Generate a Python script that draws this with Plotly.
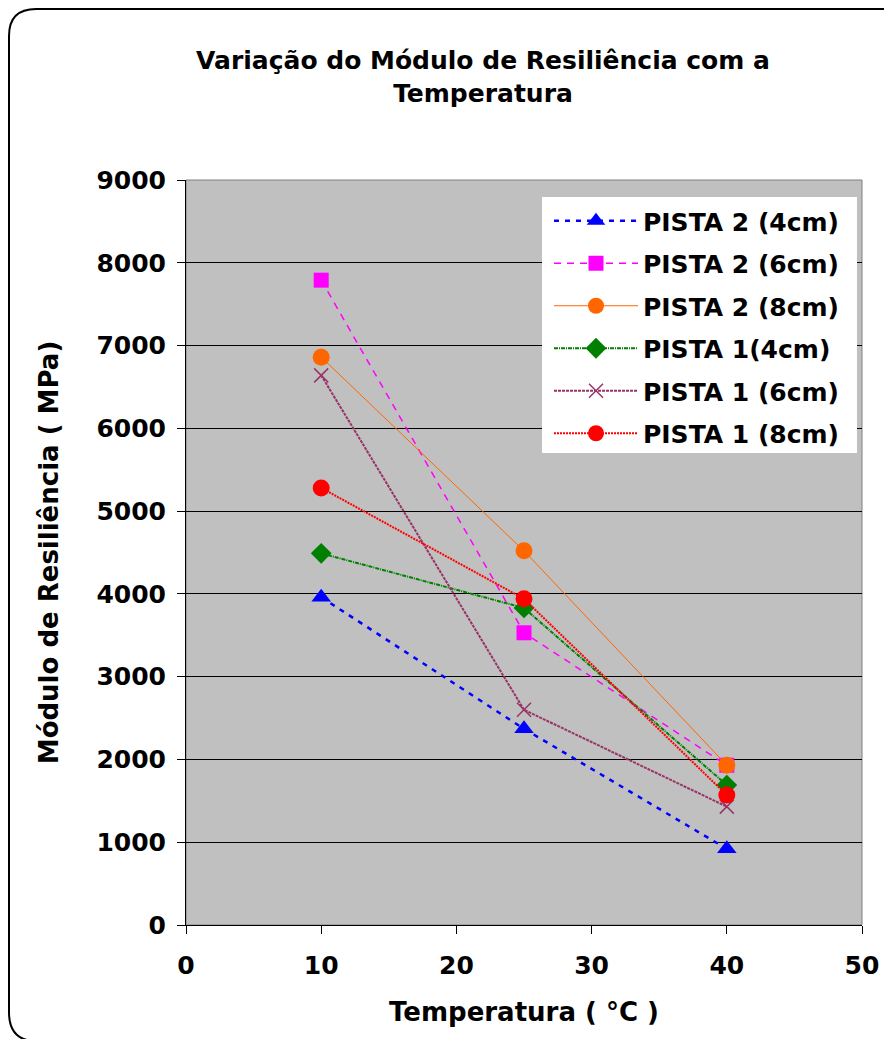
import plotly.graph_objects as go

temperatures = [10, 25, 40]
series_names = ["PISTA 2 (4cm)", "PISTA 2 (6cm)", "PISTA 2 (8cm)",
                "PISTA 1(4cm)", "PISTA 1 (6cm)", "PISTA 1 (8cm)"]
pista2_4cm = [3960, 2370, 920]
pista2_6cm = [7790, 3530, 1930]
pista2_8cm = [6860, 4520, 1930]
pista1_4cm = [4490, 3830, 1690]
pista1_6cm = [6640, 2600, 1430]
pista1_8cm = [5280, 3940, 1570]
x_ticks = [0, 10, 20, 30, 40, 50]
y_ticks = [0, 1000, 2000, 3000, 4000, 5000, 6000, 7000, 8000, 9000]

W, H = 884, 1039
L, R, T, B = 186, 22, 180, 114
PW, PH = W - L - R, H - T - B

def px(X):
    return (X - L) / PW

def py(Y):
    return (H - B - Y) / PH

FONT = "DejaVu Sans"
styles = [
    dict(color="#0000FF", dash="5px,6px", width=2.5, symbol="triangle-up", size=17),
    dict(color="#FF00FF", dash="7px,6px", width=1.5, symbol="square", size=15),
    dict(color="#FF6600", dash="solid", width=1, symbol="circle", size=17),
    dict(color="#008000", dash="4px,1px,1px,1px", width=2, symbol="diamond", size=16),
    dict(color="#993366", dash="3px,1px", width=2, symbol="x-thin-open", size=14),
    dict(color="#FF0000", dash="2px,1px", width=2, symbol="circle", size=17),
]
series_values = [pista2_4cm, pista2_6cm, pista2_8cm, pista1_4cm, pista1_6cm, pista1_8cm]

fig = go.Figure()
for i, (name, vals, st) in enumerate(zip(series_names, series_values, styles)):
    marker = dict(symbol=st["symbol"], size=st["size"], color=st["color"])
    if st["symbol"] == "x-thin-open":
        marker["line"] = dict(color=st["color"], width=1.5)
    fig.add_trace(go.Scatter(
        x=temperatures, y=vals, name=name, mode="lines+markers",
        legendgroup="g%d" % i,
        line=dict(color=st["color"], dash=st["dash"], width=st["width"]),
        marker=marker,
    ))

shapes = [
    # plot-area border (gray)
    dict(type="rect", xref="paper", yref="paper", x0=0, y0=0, x1=1, y1=1,
         line=dict(color="#808080", width=1), layer="below"),
    # legend background box
    dict(type="rect", xref="paper", yref="paper",
         x0=px(542), x1=px(857), y0=py(453), y1=py(197),
         fillcolor="white", line=dict(width=0), layer="above"),
    # outer rounded border of the chart
    dict(type="path", xref="paper", yref="paper",
         path=("M {a},{b} L {a},{c} Q {a},{d} {e},{d} L {f},{d} "
               "L {f},{g} L {e},{g} Q {a},{g} {a},{h} Z").format(
             a=px(9), b=py(1012), c=py(36), d=py(9), e=px(36),
             f=px(905), g=py(1041), h=py(1012)),
         line=dict(color="black", width=2)),
]

fig.update_layout(
    width=W, height=H,
    margin=dict(l=L, r=R, t=T, b=B, pad=0, autoexpand=False),
    paper_bgcolor="white",
    plot_bgcolor="#C0C0C0",
    font=dict(family=FONT, color="black", size=24),
    title=dict(
        text="<b>Variação do Módulo de Resiliência com a<br>Temperatura</b>",
        x=483 / W, xanchor="center", xref="container",
        y=1 - 69 / H, yanchor="top",
        font=dict(family=FONT, size=25, color="black"),
    ),
    xaxis=dict(
        range=[0, 50], tickvals=x_ticks, ticks="outside", ticklen=8,
        tickcolor="black", showline=True, linecolor="black", linewidth=1,
        showgrid=False, zeroline=False, automargin=False,
        tickfont=dict(family=FONT, size=25, weight="bold"),
        ticklabelstandoff=10,
        title=dict(text="<b>Temperatura ( °C )</b>", standoff=23,
                   font=dict(family=FONT, size=26)),
    ),
    yaxis=dict(
        range=[0, 9000], tickvals=y_ticks, ticks="outside", ticklen=8,
        tickcolor="black", showline=True, linecolor="black", linewidth=1,
        showgrid=True, gridcolor="black", gridwidth=1, zeroline=False,
        automargin=False,
        tickfont=dict(family=FONT, size=25, weight="bold"),
        ticklabelstandoff=6,
        title=dict(text="<b>Módulo de Resiliência ( MPa)</b>", standoff=30,
                   font=dict(family=FONT, size=26)),
    ),
    legend=dict(
        x=px(549), y=py(198), xanchor="left", yanchor="top",
        bgcolor="rgba(0,0,0,0)", borderwidth=0,
        font=dict(family=FONT, size=25, weight="bold"),
        itemwidth=84, tracegroupgap=7, traceorder="grouped",
    ),
    shapes=shapes,
    showlegend=True,
)

fig.write_html("out.html")
